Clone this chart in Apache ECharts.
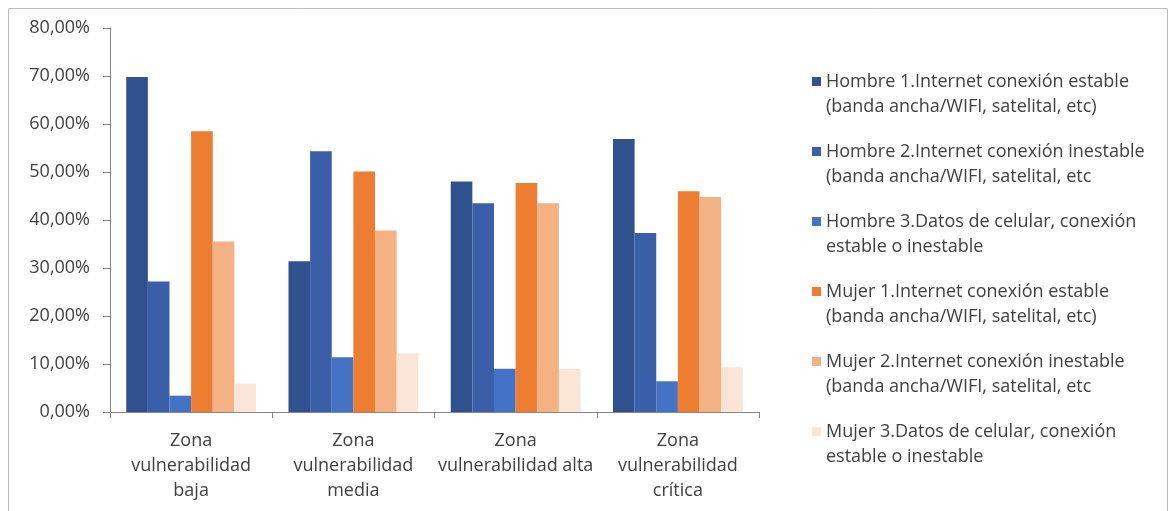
<!DOCTYPE html>
<html>
<head>
<meta charset="utf-8">
<script src="https://cdn.jsdelivr.net/npm/echarts@6/dist/echarts.min.js"></script>
<style>html,body{margin:0;padding:0;background:#fff}#c{width:1172px;height:511px}</style>
</head>
<body>
<div id="c"></div>
<script>
const categories = ["Zona\nvulnerabilidad\nbaja", "Zona\nvulnerabilidad\nmedia", "Zona\nvulnerabilidad alta", "Zona\nvulnerabilidad\ncrítica"];
const seriesNames = [
  "Hombre 1.Internet conexión estable\n(banda ancha/WIFI, satelital, etc)",
  "Hombre 2.Internet conexión inestable\n(banda ancha/WIFI, satelital, etc",
  "Hombre 3.Datos de celular, conexión\nestable o inestable",
  "Mujer 1.Internet conexión estable\n(banda ancha/WIFI, satelital, etc)",
  "Mujer 2.Internet conexión inestable\n(banda ancha/WIFI, satelital, etc",
  "Mujer 3.Datos de celular, conexión\nestable o inestable"
];
const hombre1 = [69.8, 31.4, 48.0, 56.9];
const hombre2 = [27.2, 54.3, 43.5, 37.3];
const hombre3 = [3.4, 11.4, 9.0, 6.4];
const mujer1 = [58.5, 50.1, 47.7, 46.0];
const mujer2 = [35.5, 37.8, 43.5, 44.8];
const mujer3 = [5.9, 12.2, 9.0, 9.3];
const yTicks = [0, 10, 20, 30, 40, 50, 60, 70, 80];

const colors = ["#2F528F", "#3A5FA8", "#4472C4", "#ED7D31", "#F4B183", "#FBE5D6"];
const values = [hombre1, hombre2, hombre3, mujer1, mujer2, mujer3];
const FONT = "Open Sans";
const TXT = "#404040";

const chart = echarts.init(document.getElementById('c'));
chart.setOption({
  animation: false,
  color: colors,
  graphic: [{
    type: 'rect', silent: true,
    shape: {x: 8.5, y: 8.5, width: 1159, height: 520},
    style: {fill: 'none', stroke: '#BFBFBF', lineWidth: 1}
  }],
  grid: {left: 110, right: 413, top: 28, bottom: 99, containLabel: false},
  legend: {
    orient: 'vertical',
    left: 807,
    top: 39,
    itemWidth: 9,
    itemHeight: 9,
    itemGap: -5,
    icon: 'rect',
    data: seriesNames,
    formatter: n => '\n' + n,
    textStyle: {fontFamily: FONT, fontSize: 18, color: TXT, lineHeight: 25}
  },
  xAxis: {
    type: 'category',
    data: categories,
    axisLine: {lineStyle: {color: '#868686'}},
    axisTick: {show: true, length: 6, lineStyle: {color: '#868686'}},
    axisLabel: {fontFamily: FONT, fontSize: 18, color: TXT, lineHeight: 25, margin: 16, interval: 0}
  },
  yAxis: {
    type: 'value',
    min: yTicks[0],
    max: yTicks[yTicks.length - 1],
    interval: 10,
    splitLine: {show: false},
    axisLine: {show: true, lineStyle: {color: '#868686'}},
    axisTick: {show: true, length: 7, lineStyle: {color: '#868686'}},
    axisLabel: {fontFamily: FONT, fontSize: 18, color: TXT, margin: 20,
      formatter: v => v.toFixed(2).replace('.', ',') + '%'}
  },
  series: seriesNames.map((n, i) => ({
    name: n,
    type: 'bar',
    data: values[i],
    barGap: '0%',
    barCategoryGap: '20%',
    itemStyle: {color: colors[i]}
  }))
});
</script>
</body>
</html>
